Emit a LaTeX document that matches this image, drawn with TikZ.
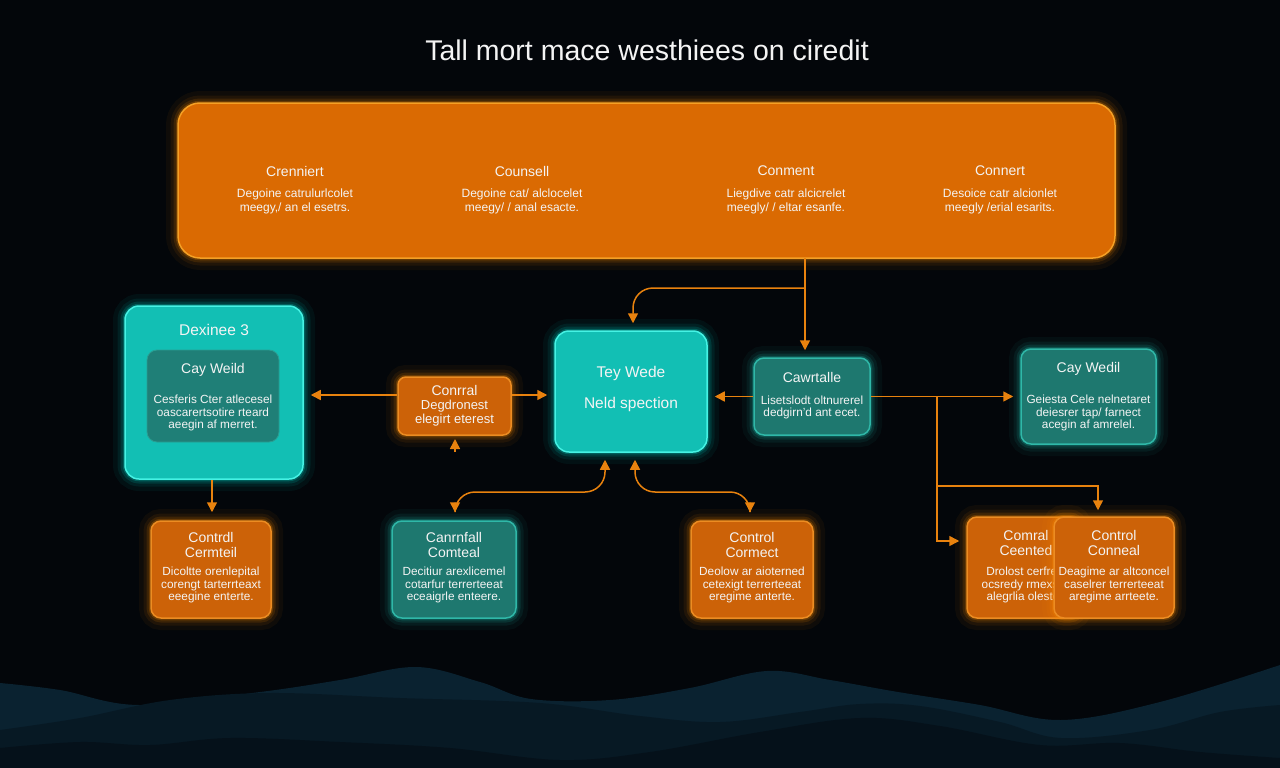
\documentclass[tikz,border=0pt]{standalone}
\usepackage{fontspec}
\setmainfont{Liberation Sans}
\usetikzlibrary{arrows.meta}
\definecolor{bg}{HTML}{03060A}
\definecolor{waveA}{HTML}{0A2230}
\definecolor{waveB}{HTML}{071924}
\definecolor{waveC}{HTML}{05111A}
\definecolor{orBig}{HTML}{DA6A02}
\definecolor{orFill}{HTML}{CC6208}
\definecolor{orEdge}{HTML}{F5A025}
\definecolor{orEdge2}{HTML}{EC8C22}
\definecolor{orGlow}{HTML}{FF8A00}
\definecolor{cyFill}{HTML}{12BFB4}
\definecolor{cyEdge}{HTML}{45F2E4}
\definecolor{cyGlow}{HTML}{00E8D8}
\definecolor{tlFill}{HTML}{1E786F}
\definecolor{tlEdge}{HTML}{2FB8A8}
\definecolor{tlGlow}{HTML}{1FC8B8}
\definecolor{inFill}{HTML}{1F7F77}
\definecolor{inEdge}{HTML}{2A9E92}
\definecolor{arrC}{HTML}{E8820E}
\definecolor{txtC}{HTML}{F4F4F4}
\tikzset{
 glow/.style={preaction={draw=#1,draw opacity=0.05,line width=24pt},
              preaction={draw=#1,draw opacity=0.08,line width=15pt},
              preaction={draw=#1,draw opacity=0.13,line width=9pt},
              preaction={draw=#1,draw opacity=0.22,line width=4.5pt}},
 bx/.style={rectangle,inner sep=0pt,line width=1.5pt},
 obig/.style={bx,fill=orBig,draw=orEdge,rounded corners=22pt,glow=orGlow},
 obox/.style={bx,fill=orFill,draw=orEdge2,rounded corners=10pt,glow=orGlow},
 cbox/.style={bx,fill=cyFill,draw=cyEdge,rounded corners=14pt,glow=cyGlow},
 tbox/.style={bx,fill=tlFill,draw=tlEdge,rounded corners=10pt,glow=tlGlow},
 ibox/.style={bx,fill=inFill,draw=inEdge,line width=0.8pt,rounded corners=10pt},
 txt/.style={text=txtC,align=center,inner sep=0pt},
 ttl/.style={txt,font=\fontsize{28.5}{31}\selectfont},
 hd/.style={txt,font=\fontsize{14}{14.5}\selectfont},
 hdb/.style={txt,font=\fontsize{15.5}{17}\selectfont},
 bd/.style={txt,font=\fontsize{11.8}{12.5}\selectfont},
 bdt/.style={txt,font=\fontsize{12}{14}\selectfont},
 arr/.style={draw=arrC,line width=1.5pt,-{Triangle[length=10pt,width=10pt]}},
 darr/.style={draw=arrC,line width=1.5pt,{Triangle[length=10pt,width=10pt]}-{Triangle[length=10pt,width=10pt]}},
}
\begin{document}
\begin{tikzpicture}[x=1pt,y=-1pt]
\useasboundingbox (0,0) rectangle (1280,768);
\fill[bg] (0,0) rectangle (1280,768);
% waves
\fill[waveA] plot[smooth,tension=0.6] coordinates {(0,683) (60,690) (139,705) (260,692) (340,680) (416,667) (480,682) (531,699) (610,700) (690,688) (767,671) (830,680) (898,692) (980,705) (1061,720) (1160,702) (1280,665)} -- (1280,768) -- (0,768) -- cycle;
\fill[waveB] plot[smooth,tension=0.6] coordinates {(0,730) (80,718) (170,700) (270,693) (400,698) (540,703) (640,716) (720,722) (800,712) (860,704) (920,706) (1000,722) (1061,738) (1150,730) (1220,712) (1280,705)} -- (1280,768) -- (0,768) -- cycle;
\fill[waveC] plot[smooth,tension=0.6] coordinates {(0,748) (80,742) (150,745) (230,738) (340,742) (450,748) (560,760) (650,752) (760,732) (860,718) (940,726) (1040,745) (1120,743) (1200,752) (1280,758)} -- (1280,768) -- (0,768) -- cycle;

% title
\node[ttl] (title) at (647,50) {Tall mort mace westhiees on ciredit};

% big top box
\node[obig,minimum width=937pt,minimum height=155pt] (big) at (646.5,180.5) {};
\node[hd] (h1) at (295,171) {Crenniert};
\node[bdt] (t1) at (295,201) {Degoine catrulurlcolet\\meegy,/ an el esetrs.};
\node[hd] (h2) at (522,171) {Counsell};
\node[bdt] (t2) at (522,201) {Degoine cat/ alclocelet\\meegy/ / anal esacte.};
\node[hd] (h3) at (786,171) {Conment};
\node[bdt] (t3) at (786,201) {Liegdive catr alcicrelet\\meegly/ / eltar esanfe.};
\node[hd] (h4) at (1000,171) {Connert};
\node[bdt] (t4) at (1000,201) {Desoice catr alcionlet\\meegly /erial esarits.};

% left cyan box
\node[cbox,minimum width=178pt,minimum height=173pt] (dex) at (214,392.5) {};
\node[hdb] (dexT) at (214,330) {Dexinee 3};
\node[ibox,minimum width=132pt,minimum height=92pt] (inner) at (213,396) {};
\node[hd] (innerT) at (213,370) {Cay Weild};
\node[bd] (innerB) at (213,413) {Cesferis Cter atlecesel\\oascarertsotire rteard\\aeegin af merret.};

% Conrral
\node[obox,rounded corners=8pt,minimum width=113pt,minimum height=58pt] (conr) at (454.5,406) {};
\node[txt,font=\fontsize{13}{14}\selectfont] (conrT) at (454.5,406) {{\fontsize{14}{14}\selectfont Conrral}\\Degdronest\\elegirt eterest};

% center
\node[cbox,minimum width=152pt,minimum height=121pt] (tey) at (631,391.5) {};
\node[hdb] (teyA) at (631,373) {Tey Wede};
\node[hdb] (teyB) at (631,404) {Neld spection};

% Cawrtalle
\node[tbox,minimum width=116pt,minimum height=77pt] (caw) at (812,396.5) {};
\node[hd] (cawT) at (812,377) {Cawrtalle};
\node[bd] (cawB) at (812,407.5) {Lisetslodt oltnurerel\\dedgirn'd ant ecet.};

% Cay Wedil
\node[tbox,minimum width=135pt,minimum height=95pt] (cayw) at (1088.5,396.5) {};
\node[hd] (caywT) at (1088.5,369) {Cay Wedil};
\node[bd] (caywB) at (1088.5,413) {Geiesta Cele nelnetaret\\deiesrer tap/ farnect\\acegin af amrelel.};

% bottom row
\node[obox,minimum width=120pt,minimum height=97pt] (b1) at (211,569.5) {};
\node[hd] (b1T) at (211,545) {Contrdl\\Cermteil};
\node[bd] (b1B) at (211,585) {Dicoltte orenlepital\\corengt tarterrteaxt\\eeegine enterte.};

\node[tbox,minimum width=124pt,minimum height=97pt] (b2) at (454,569.5) {};
\node[hd] (b2T) at (454,545) {Canrnfall\\Comteal};
\node[bd] (b2B) at (454,585) {Decitiur arexlicemel\\cotarfur terrerteeat\\eceaigrle enteere.};

\node[obox,minimum width=122pt,minimum height=97pt] (b3) at (752,569.5) {};
\node[hd] (b3T) at (752,545) {Control\\Cormect};
\node[bd] (b3B) at (752,585) {Deolow ar aioterned\\cetexigt terrerteeat\\eregime anterte.};

\node[obox,minimum width=113pt,minimum height=101pt] (b4) at (1023.5,567.5) {};
\node[hd] (b4T) at (1026,543) {Comral\\Ceented};
\node[bd] (b4B) at (1023,585) {Drolost cerfrel\\ocsredy rmexstl\\alegrlia oleste};

\node[obox,minimum width=120pt,minimum height=101pt] (b5) at (1114,567.5) {};
\node[hd] (b5T) at (1114,543) {Control\\Conneal};
\node[bd] (b5B) at (1114,585) {Deagime ar altconcel\\caselrer terrerteeat\\aregime arrteete.};

% connectors
\coordinate (topdrop) at (805,258);
\coordinate (jTop) at (805,288);
\draw[arr,shorten >=7pt] (topdrop) -- (caw.north -| topdrop);
\draw[arr,rounded corners=20pt,shorten >=7pt] (jTop) -- (633,288) -- (tey.north -| 633,0);
\draw[arr,shorten >=7pt] (conr.west |- 0,395) -- (dex.east |- 0,395);
\draw[arr,shorten >=7pt] (conr.east |- 0,395) -- (tey.west |- 0,395);
\coordinate (upStub) at (455,452);
\draw[arr] (upStub) -- (455,439);
\draw[arr,shorten >=7pt] (caw.west) -- (tey.east |- caw.west);
\draw[arr,shorten >=7pt] (caw.east) -- (cayw.west |- caw.east);
\coordinate (jR) at (937,396.5);
\coordinate (jR2) at (937,486);
\draw[arr,shorten >=7pt] (jR) -- (937,541) -- (b4.west |- 0,541);
\draw[arr,shorten >=6pt] (jR2) -- (1098,486) -- (b5.north -| 1098,0);
\draw[arr,shorten >=8pt] (dex.south -| 212,0) -- (b1.north -| 212,0);
\draw[darr,rounded corners=20pt,shorten <=7pt,shorten >=8pt] (tey.south -| 605,0) -- (605,492) -- (455,492) -- (b2.north -| 455,0);
\draw[darr,rounded corners=20pt,shorten <=8pt,shorten >=7pt] (b3.north -| 750,0) -- (750,492) -- (635,492) -- (tey.south -| 635,0);
\end{tikzpicture}
\end{document}
